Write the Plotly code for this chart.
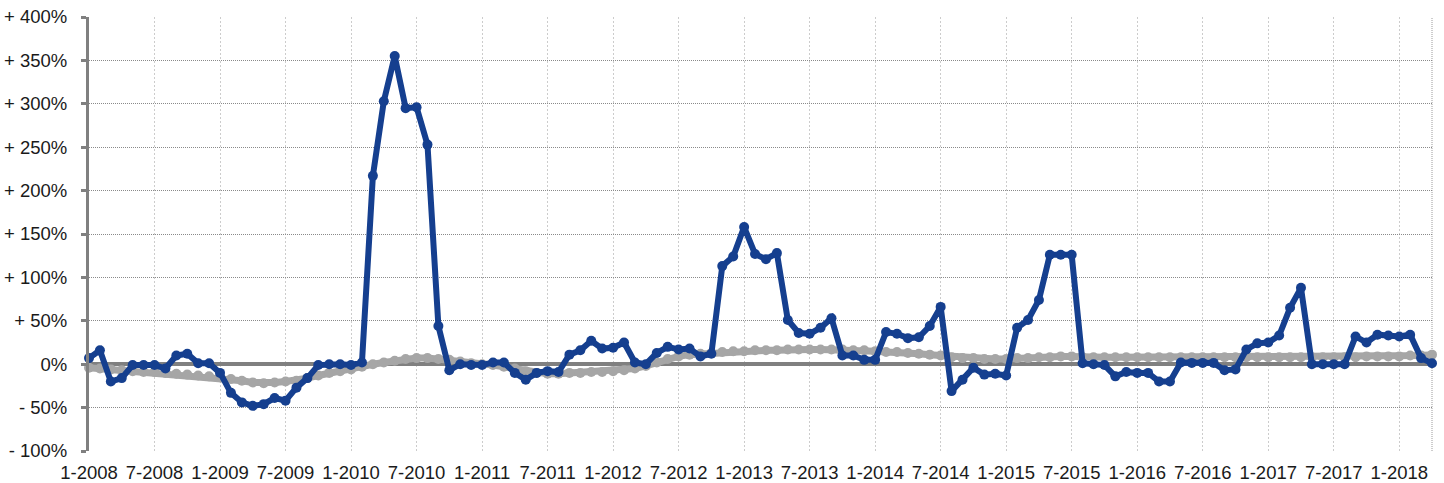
import plotly.graph_objects as go

# Monthly labels, January 2008 through April 2018
months = [f"{m}-{y}" for y in range(2008, 2019) for m in range(1, 13)][:124]

# Year-on-year change, in percent (blue series)
change_pct = [
    7, 16, -20, -16, -1, -1, -1, -5, 10, 12, 1, 1,            # 2008
    -10, -33, -44, -48, -46, -39, -42, -27, -16, -1, 0, 0,    # 2009
    -1, 2, 217, 303, 355, 295, 296, 253, 44, -7, 0, -1,       # 2010
    -1, 2, 2, -10, -18, -10, -8, -9, 11, 16, 27, 18,          # 2011
    19, 25, 2, 0, 13, 20, 17, 18, 9, 12, 113, 124,            # 2012
    158, 127, 121, 128, 51, 36, 35, 42, 53, 10, 10, 5,        # 2013
    5, 37, 35, 30, 31, 44, 66, -31, -18, -4, -12, -11,        # 2014
    -13, 42, 51, 74, 126, 126, 126, 1, 0, -1, -14, -9,        # 2015
    -10, -10, -20, -20, 2, 1.5, 1.5, 1.5, -7, -6, 17, 24,     # 2016
    25, 33, 65, 88, 0, 0, 0, 0, 32, 25, 34, 33,               # 2017
    32, 34, 7, 1,                                             # 2018
]

# Reference series, in percent (grey series)
reference_pct = [
    -4, -5, -6, -7, -8, -9, -9, -10, -11, -12, -13, -14,
    -15, -17, -19, -21, -22, -21, -20, -19, -16, -13, -10, -8,
    -6, -3, 0, 2, 4, 6, 7, 7, 6, 5, 3, 1,
    0, -1, -3, -5, -8, -10, -11, -11, -10, -10, -9, -9,
    -8, -7, -5, -2, 2, 6, 9, 11, 12, 13, 14, 15,
    15, 16, 16, 16, 17, 17, 17, 17, 17, 17, 16, 16,
    15, 14, 14, 13, 12, 11, 10, 8, 7, 7, 6, 6,
    6, 7, 7, 8, 8, 9, 9, 8, 8, 8, 8, 8,
    8, 8, 8, 8, 8, 8, 8, 8, 8, 8, 8, 8,
    8, 8, 8, 8, 8, 8, 8, 8, 8, 9, 9, 9,
    9, 10, 10, 11,
]

y_ticks = [-100, -50, 0, 50, 100, 150, 200, 250, 300, 350, 400]
y_tick_text = ["- 100%", "- 50%", "0%", "+ 50%", "+ 100%", "+ 150%", "+ 200%",
               "+ 250%", "+ 300%", "+ 350%", "+ 400%"]
x_ticks = months[::6]

label_font = dict(family="Liberation Sans, Arial, sans-serif", size=18.5, color="#1a1a1a")

fig = go.Figure()
fig.add_trace(go.Scatter(
    x=months, y=reference_pct, mode="lines+markers",
    line=dict(color="#a6a6a6", width=7),
    marker=dict(color="#a6a6a6", size=10),
    cliponaxis=False, showlegend=False,
))
fig.add_trace(go.Scatter(
    x=months, y=change_pct, mode="lines+markers",
    line=dict(color="#153f8f", width=6),
    marker=dict(color="#153f8f", size=10),
    cliponaxis=False, showlegend=False,
))

fig.update_xaxes(
    type="category", range=[0, len(months) - 1],
    tickmode="array", tickvals=x_ticks, ticktext=x_ticks,
    showgrid=True, gridcolor="#cccccc", griddash="2px,2px", gridwidth=1,
    showline=False, ticks="", zeroline=False,
    ticklabelstandoff=8, automargin=False,
    tickfont=label_font,
)
fig.update_yaxes(
    range=[-100, 400], tickmode="array", tickvals=y_ticks, ticktext=y_tick_text,
    showgrid=True, gridcolor="#8a8a8a", griddash="1px,1px", gridwidth=1,
    zeroline=True, zerolinecolor="#808080", zerolinewidth=4,
    showline=True, linecolor="#808080", linewidth=3,
    ticks="outside", ticklen=5, tickwidth=3, tickcolor="#808080",
    ticklabelstandoff=10, automargin=False,
    tickfont=label_font,
)

# dotted right-hand border of the plot area
fig.add_shape(type="line", xref="paper", yref="paper", x0=1, x1=1, y0=0, y1=1,
              line=dict(color="#9a9a9a", width=1, dash="1px,1px"), layer="below")

fig.update_layout(
    width=1444, height=483,
    margin=dict(l=89, r=12, t=17, b=32),
    plot_bgcolor="white", paper_bgcolor="white",
)

fig.write_html("out.html")
